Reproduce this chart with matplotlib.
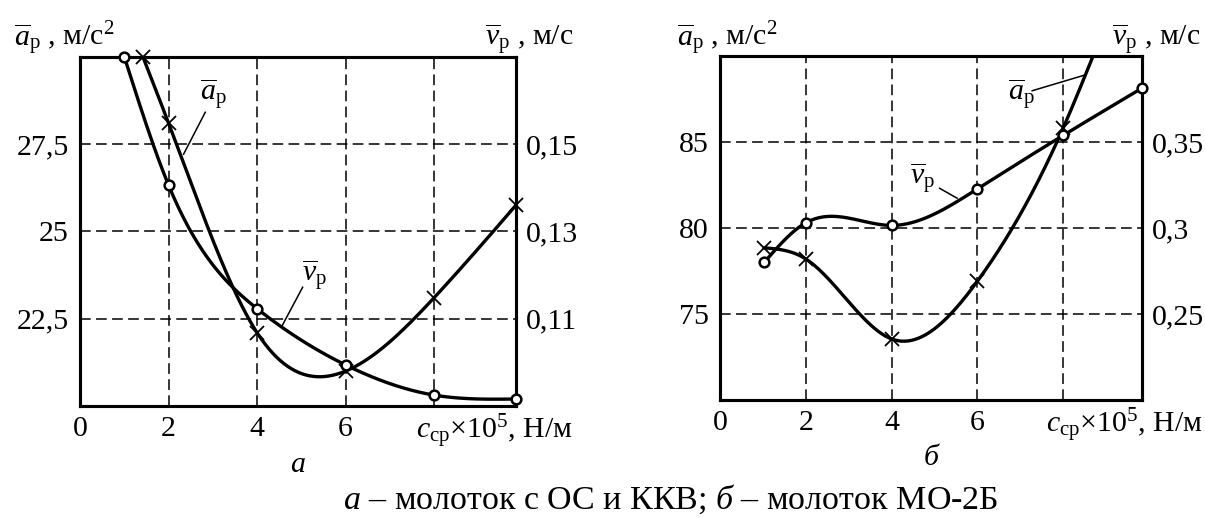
import numpy as np
import matplotlib.pyplot as plt
import matplotlib.transforms as mtransforms

plt.rcParams['font.family'] = 'Liberation Serif'
plt.rcParams['mathtext.fontset'] = 'custom'
plt.rcParams['mathtext.rm'] = 'Liberation Serif'
plt.rcParams['mathtext.it'] = 'Liberation Serif:italic'
plt.rcParams['mathtext.bf'] = 'Liberation Serif:bold'

# panel а: молоток с ОС и ККВ
a_c_acc = [1.42, 2, 4, 6, 8, 9.85]
a_acc = [30.0, 28.1, 22.1, 21.0, 23.1, 25.75]
a_c_vel = [1.0, 2, 4, 6, 8, 9.85]
a_vel = [0.170, 0.1406, 0.1123, 0.0994, 0.0925, 0.0916]

# panel б: молоток МО-2Б
b_c_acc = [1.03, 2, 4, 6, 8]
b_acc = [78.85, 78.2, 73.55, 76.9, 85.8]
b_acc_exit = (8.7, 90.0)   # where the curve leaves the frame
b_c_vel = [1.03, 2, 4, 6, 8, 9.84]
b_vel = [0.280, 0.303, 0.3015, 0.3227, 0.3538, 0.3813]

FS = 21.5


def spline(x, y, n=300):
    """Natural cubic spline through the points (for drawing the smooth curve)"""
    x = np.asarray(x, float)
    y = np.asarray(y, float)
    k = len(x)
    h = np.diff(x)
    A = np.zeros((k, k))
    r = np.zeros(k)
    A[0, 0] = A[-1, -1] = 1
    for i in range(1, k - 1):
        A[i, i - 1] = h[i - 1]
        A[i, i] = 2 * (h[i - 1] + h[i])
        A[i, i + 1] = h[i]
        r[i] = 6 * ((y[i + 1] - y[i]) / h[i] - (y[i] - y[i - 1]) / h[i - 1])
    M = np.linalg.solve(A, r)
    xs = np.linspace(x[0], x[-1], n)
    idx = np.clip(np.searchsorted(x, xs) - 1, 0, k - 2)
    x0, x1 = x[idx], x[idx + 1]
    hh = x1 - x0
    t0, t1 = x1 - xs, xs - x0
    ys = (M[idx] * t0 ** 3 + M[idx + 1] * t1 ** 3) / (6 * hh) \
        + (y[idx] / hh - M[idx] * hh / 6) * t0 + (y[idx + 1] / hh - M[idx + 1] * hh / 6) * t1
    return xs, ys


def panel(rect, xmax, ylim, yticks, ylabels, y2lim, y2ticks, y2labels,
          c_acc, acc, c_vel, vel, acc_curve, sub, lab_x):
    ax = fig.add_axes(rect)
    ax2 = ax.twinx()
    ax.set_xlim(0, xmax)
    ax.set_ylim(*ylim)
    ax2.set_ylim(*y2lim)
    ax.set_xticks([0, 2, 4, 6, 8])
    ax.set_xticklabels(['0', '2', '4', '6', ''])
    ax.set_yticks(yticks)
    ax.set_yticklabels(ylabels)
    ax2.set_yticks(y2ticks)
    ax2.set_yticklabels(y2labels)
    ax.tick_params(length=0, labelsize=FS, pad=8)
    ax.tick_params(axis='x', pad=7)
    ax2.tick_params(length=0, labelsize=FS, pad=7)
    ax.grid(True, color='k', lw=1.1, ls=(0, (7, 3.5)))
    for a in (ax, ax2):
        for s in a.spines.values():
            s.set_linewidth(2.2)

    cx, cy = spline(*acc_curve)
    ax.plot(cx, cy, color='k', lw=2.4)
    ax.plot(c_acc, acc, ls='none', marker='x', ms=10, mew=1.3, color='k', clip_on=False)
    vx, vy = spline(c_vel, vel)
    ax2.plot(vx, vy, color='k', lw=2.4)
    ax2.plot(c_vel, vel, ls='none', marker='o', ms=7, mew=1.8, mfc='white', mec='k',
             clip_on=False, zorder=5)

    ax.text(lab_x[0], 1.03, r'$\overline{a}_{\mathrm{р}}$ , м/с$^2$', transform=ax.transAxes,
            fontsize=FS, ha='left', va='baseline')
    ax.text(lab_x[1], 1.03, r'$\overline{v}_{\mathrm{р}}$ , м/с', transform=ax.transAxes,
            fontsize=FS, ha='left', va='baseline')
    trans = mtransforms.blended_transform_factory(ax.transData, ax.transAxes)
    ax.text(7.6, -0.095, r'$c_{\mathrm{ср}}$×10$^5$, Н/м', transform=trans,
            fontsize=FS, ha='left', va='baseline')
    ax.text(xmax / 2, -0.19, sub, transform=trans, fontsize=FS, style='italic',
            ha='center', va='baseline')
    return ax, ax2


fig = plt.figure(figsize=(12.05, 5.18), dpi=100)

# panel а
a_curve = (a_c_acc, a_acc)
ax, ax2 = panel([0.0664, 0.2162, 0.3618, 0.6743], 9.85, (20, 30), [22.5, 25, 27.5],
                ['22,5', '25', '27,5'], (0.09, 0.17), [0.11, 0.13, 0.15],
                ['0,11', '0,13', '0,15'], a_c_acc, a_acc, a_c_vel, a_vel,
                a_curve, 'а', (-0.152, 0.93))
ax.text(2.72, 28.75, r'$\overline{a}_{\mathrm{р}}$', fontsize=FS, ha='left', va='baseline')
ax.plot([2.83, 2.34], [28.41, 27.21], color='k', lw=1.1)
ax.text(5.02, 23.55, r'$\overline{v}_{\mathrm{р}}$', fontsize=FS, ha='left', va='baseline')
ax.plot([5.03, 4.55], [23.4, 22.26], color='k', lw=1.1)

# panel б
b_curve = (list(b_c_acc) + [b_acc_exit[0]], list(b_acc) + [b_acc_exit[1]])
bx, bx2 = panel([0.5975, 0.2278, 0.3502, 0.6641], 9.84, (70, 90), [75, 80, 85],
                ['75', '80', '85'], (0.2, 0.4), [0.25, 0.3, 0.35],
                ['0,25', '0,3', '0,35'], b_c_acc, b_acc, b_c_vel, b_vel,
                b_curve, 'б', (-0.102, 0.928))
bx.text(6.72, 87.4, r'$\overline{a}_{\mathrm{р}}$', fontsize=FS, ha='left', va='baseline')
bx.plot([7.28, 8.49], [87.98, 88.88], color='k', lw=1.1)
bx.text(4.42, 82.5, r'$\overline{v}_{\mathrm{р}}$', fontsize=FS, ha='left', va='baseline')
bx.plot([5.12, 5.53], [82.31, 81.73], color='k', lw=1.1)

fig.text(0.5564, 0.018, r'$а$ – молоток с ОС и ККВ; $б$ – молоток МО-2Б', fontsize=24.5,
         ha='center', va='baseline')

fig.savefig('out.png', dpi=100)
